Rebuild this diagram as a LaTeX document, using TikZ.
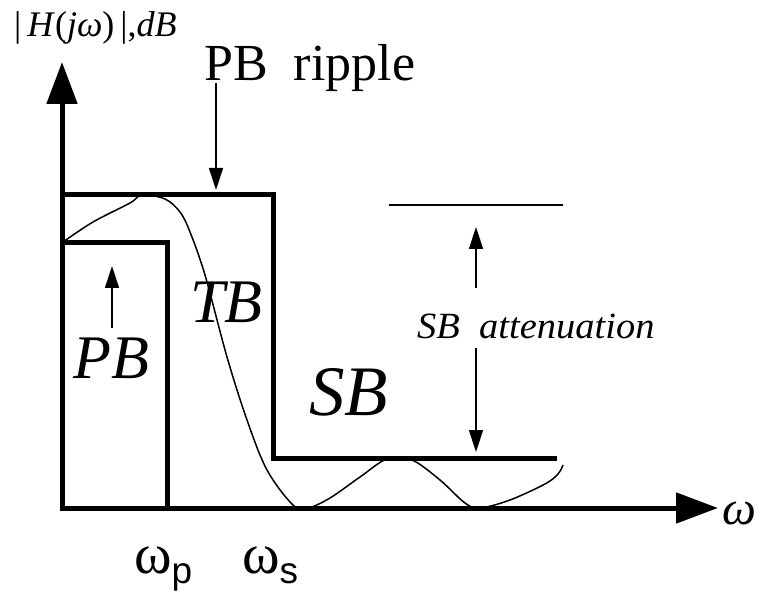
\documentclass[tikz,border=0pt]{standalone}
\usepackage{fontspec}
\setmainfont{Liberation Serif}
\newfontfamily\subfont{Liberation Sans}
\usetikzlibrary{arrows.meta}

\tikzset{
  axis/.style={line width=5pt, -{Triangle[length=42pt,width=30pt]}},
  band/.style={line width=5pt, line join=miter},
  pointer/.style={line width=1.5pt, -{Triangle[length=22pt,width=14pt]}},
  bigital/.style={font=\fontsize{62}{62}\selectfont\itshape, inner sep=0pt, anchor=base west},
  label/.style={inner sep=0pt, anchor=base west},
}

\begin{document}
\begin{tikzpicture}[x=1pt, y=-1pt]
  \useasboundingbox (0,0) rectangle (758,596);
  % axes
  \coordinate (O) at (62,510);
  \coordinate (ytip) at (62,62);
  \coordinate (xorg) at (60,508);
  \coordinate (xtip) at (718,508);
  \draw[axis] (O) -- (ytip);
  \draw[axis] (xorg) -- (xtip);
  \node[label, font=\fontsize{36}{36}\selectfont] (mag) at (14,37)
    {|\,\textit{H}(\textit{jω})\,|,\textit{dB}};
  \node[label, font=\fontsize{48}{48}\selectfont\itshape] (w) at (722,524) {ω};
  \node[label, font=\fontsize{57}{57}\selectfont] (wp) at (134,573)
    {ω\raisebox{-10pt}{\subfont\fontsize{37}{37}\selectfont p}};
  \node[label, font=\fontsize{57}{57}\selectfont] (ws) at (242,573)
    {ω\raisebox{-10pt}{\subfont\fontsize{37}{37}\selectfont s}};

  % tolerance bands
  \draw[band] (62,195) -- (273,195) -- (273,458) -- (557,458);
  \draw[band] (62,243) -- (167,243) -- (167,508);
  \draw[line width=1.5pt] (389,205) -- (563,205);

  % response
  \draw[line width=1.5pt] plot[smooth, tension=0.55] coordinates {
    (63,242) (93,222) (130,203) (142,195) (165,199) (180,212) (190,232)
    (205,275) (227,357) (247,420) (267,470) (293,505) (308,508) (330,498)
    (360,477) (387,459) (412,460) (440,480) (465,503) (480,508) (510,500)
    (545,484) (558,474) (563,465)};

  % labels
  \node[label, font=\fontsize{52}{52}\selectfont] (ripple) at (204,81) {PB\ \ ripple};
  \coordinate (rtail) at (216,83);
  \coordinate (rtip) at (216,190);
  \draw[pointer] (rtail) -- (rtip);

  \node[bigital] (pb) at (73,378) {PB};
  \coordinate (pbtail) at (112,328);
  \coordinate (pbtip) at (112,266);
  \draw[pointer] (pbtail) -- (pbtip);

  \node[bigital] (tb) at (190,322) {TB};
  \node[bigital, font=\fontsize{71}{71}\selectfont\itshape] (sb) at (309,415) {SB};

  \node[label, font=\fontsize{37}{37}\selectfont\itshape] (att) at (417,338)
    {\scalebox{1.04}[1]{SB\ \ attenuation}};
  \coordinate (atop) at (476,288);
  \coordinate (atoptip) at (476,227);
  \coordinate (abot) at (476,348);
  \coordinate (abottip) at (476,452);
  \draw[pointer] (atop) -- (atoptip);
  \draw[pointer] (abot) -- (abottip);
\end{tikzpicture}
\end{document}
